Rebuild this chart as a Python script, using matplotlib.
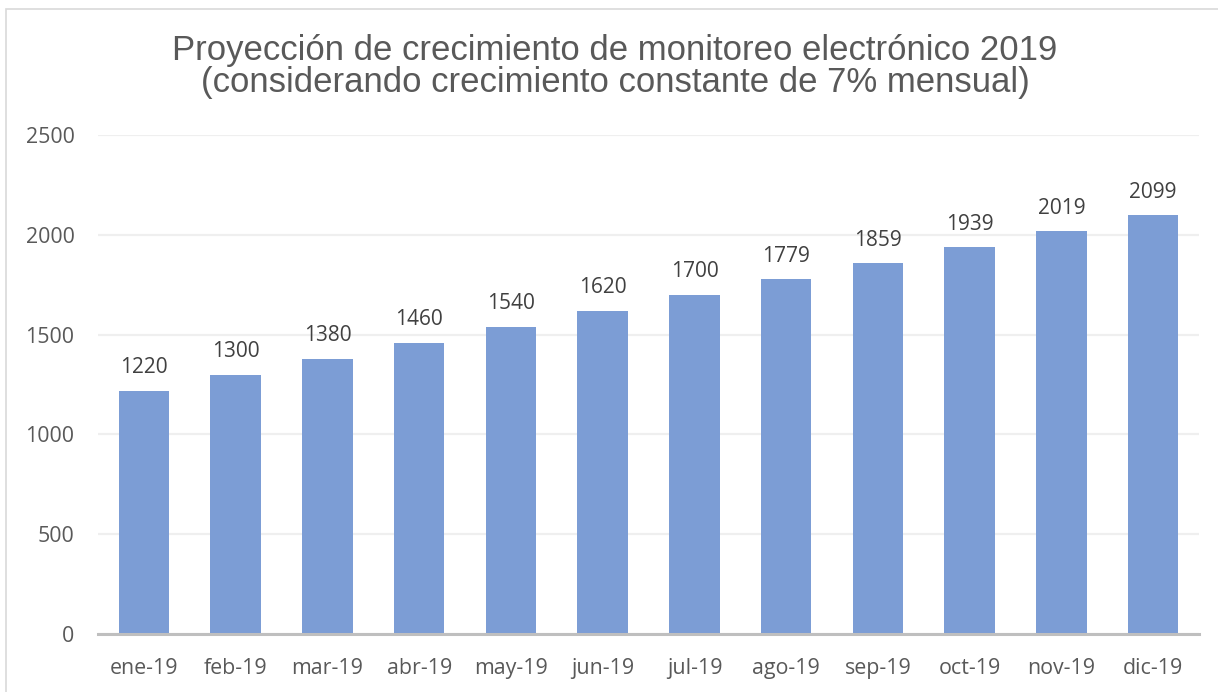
import matplotlib
matplotlib.use("Agg")
import matplotlib.pyplot as plt
from matplotlib.patches import Rectangle

# Datos
meses = ["ene-19", "feb-19", "mar-19", "abr-19", "may-19", "jun-19",
         "jul-19", "ago-19", "sep-19", "oct-19", "nov-19", "dic-19"]
monitoreo = [1220, 1300, 1380, 1460, 1540, 1620, 1700, 1779, 1859, 1939, 2019, 2099]
ticks_y = [0, 500, 1000, 1500, 2000, 2500]

titulo = ("Proyección de crecimiento de monitoreo electrónico 2019\n"
          "(considerando crecimiento constante de 7% mensual)")

fig = plt.figure(figsize=(12.18, 6.92), dpi=100)
ax = fig.add_axes([0.0805, 0.0838, 0.904, 0.721])

# marco del grafico (como en Excel)
fig.patches.append(Rectangle((6 / 1218, -0.1), 1.2, (692 - 9) / 692 + 0.1,
                             transform=fig.transFigure, fill=False,
                             edgecolor="#D9D9D9", linewidth=1.2))

x = range(len(meses))
barras = ax.bar(x, monitoreo, width=0.55, color="#7C9DD5", zorder=3)

for xi, v in zip(x, monitoreo):
    ax.text(xi, v + 62, str(v), ha="center", va="bottom",
            fontsize=15, color="#404040", family="Open Sans")

ax.set_xlim(-0.5, len(meses) - 0.5)
ax.set_ylim(0, 2500)
ax.set_yticks(ticks_y)
ax.set_xticks(list(x))
ax.set_xticklabels(meses)
ax.grid(axis="y", color="#EFEFEF", linewidth=1.6, zorder=0)

for s in ["top", "right", "left"]:
    ax.spines[s].set_visible(False)
ax.spines["bottom"].set_color("#BFBFBF")
ax.spines["bottom"].set_linewidth(2.2)
ax.spines["bottom"].set_zorder(4)

ax.tick_params(axis="both", length=0, labelsize=15.4, labelcolor="#595959")
ax.tick_params(axis="x", pad=17.5)
ax.tick_params(axis="y", pad=17)
for lbl in ax.get_xticklabels() + ax.get_yticklabels():
    lbl.set_family("Open Sans")

fig.text(0.505, 0.904, titulo, ha="center", va="center", fontsize=25,
         color="#595959", family="Liberation Sans", linespacing=0.98)

plt.savefig("out.png", dpi=100)
